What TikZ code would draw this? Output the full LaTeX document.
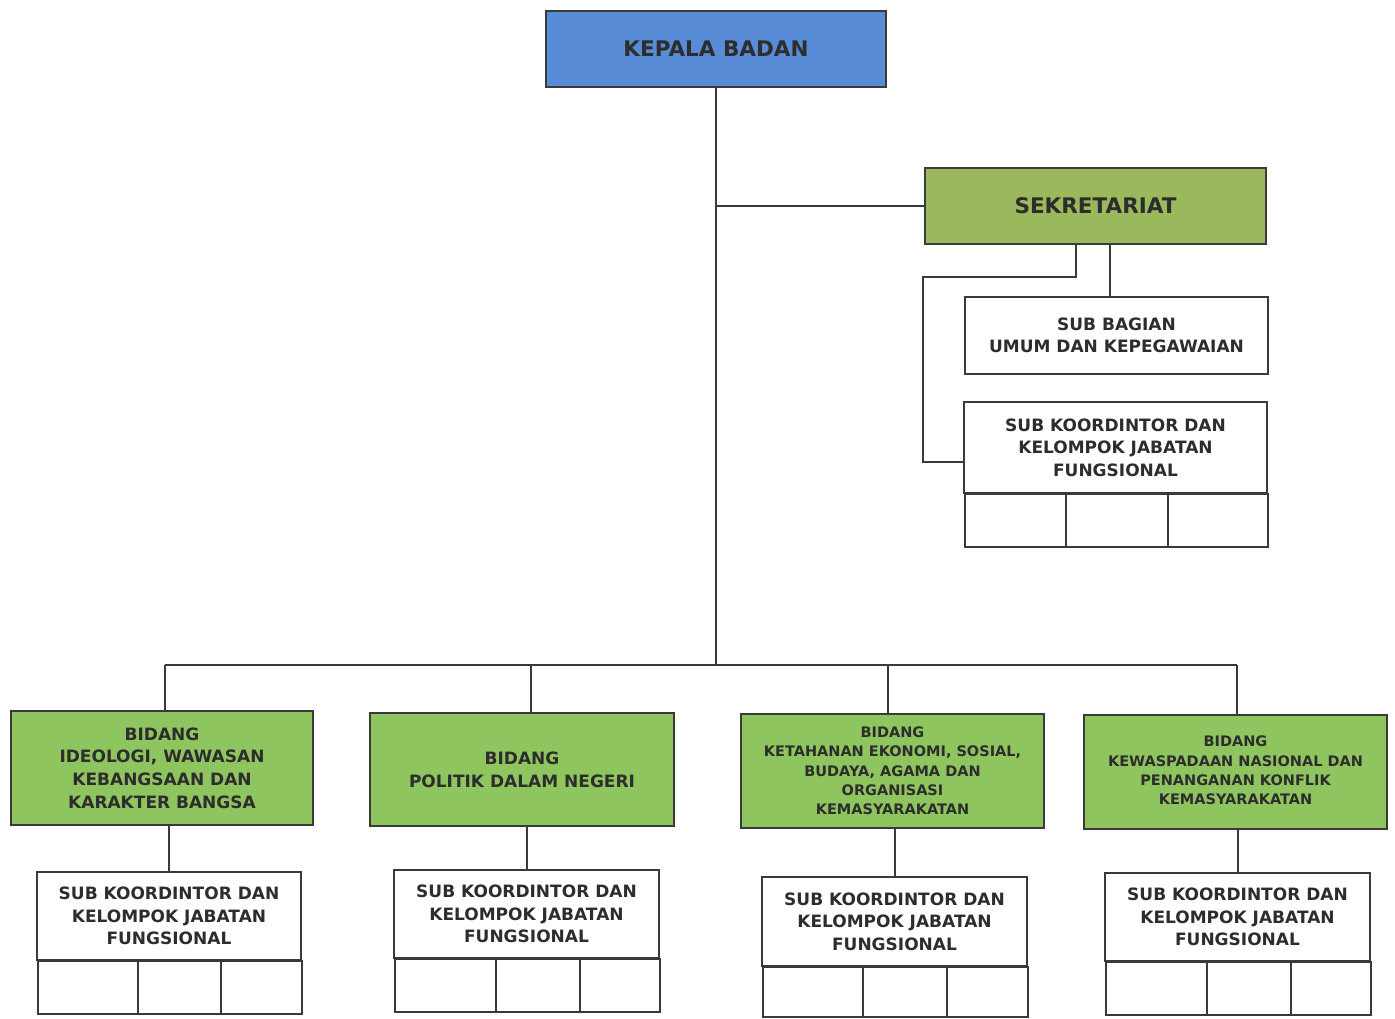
\documentclass[tikz,border=0pt]{standalone}
\usepackage{fontspec}
\setmainfont{DejaVu Sans}
\definecolor{lc}{RGB}{58,58,58}
\definecolor{txt}{RGB}{45,45,45}
\definecolor{kbblue}{RGB}{88,140,214}
\definecolor{sekgreen}{RGB}{155,185,92}
\definecolor{bidgreen}{RGB}{142,197,94}
\tikzset{
  box/.style={draw=lc, line width=2pt, align=center, text=txt, inner sep=0pt},
  bigfont/.style={font=\fontsize{21.5}{26}\selectfont\bfseries},
  midfont/.style={font=\fontsize{17}{22.6}\selectfont\bfseries},
  smallfont/.style={font=\fontsize{14.5}{19.3}\selectfont\bfseries},
  cell/.style={draw=lc, line width=2pt, anchor=north west, inner sep=0pt},
  conn/.style={draw=lc, line width=2pt},
}
\begin{document}
\begin{tikzpicture}[x=1pt,y=-1pt]
\useasboundingbox[fill=white] (0,0) rectangle (1395,1018);

% top
\node[box, bigfont, fill=kbblue, minimum width=340, minimum height=76] (kb) at (716,49) {\raisebox{-3pt}{KEPALA BADAN}};
\node[box, bigfont, fill=sekgreen, minimum width=341, minimum height=76] (sek) at (1095.5,206) {\raisebox{-3pt}{SEKRETARIAT}};
\node[box, midfont, fill=white, minimum width=303, minimum height=77] (sb) at (1116.5,335.5) {SUB BAGIAN\\UMUM DAN KEPEGAWAIAN};
\node[box, midfont, fill=white, minimum width=303, minimum height=91] (sk0) at (1115.5,447.5) {SUB KOORDINTOR DAN\\KELOMPOK JABATAN\\FUNGSIONAL};
\node[cell, minimum width=101, minimum height=53] (sk0a) at (964,493) {};
\node[cell, minimum width=102, minimum height=53] (sk0b) at (1065,493) {};
\node[cell, minimum width=100, minimum height=53] (sk0c) at (1167,493) {};

% bidang
\node[box, midfont, fill=bidgreen, minimum width=302, minimum height=114] (b1) at (162,768) {BIDANG\\IDEOLOGI, WAWASAN\\KEBANGSAAN DAN\\KARAKTER BANGSA};
\node[box, midfont, fill=bidgreen, minimum width=304, minimum height=113] (b2) at (522,769.5) {BIDANG\\POLITIK DALAM NEGERI};
\node[box, smallfont, fill=bidgreen, minimum width=303, minimum height=114] (b3) at (892.5,771) {BIDANG\\KETAHANAN EKONOMI, SOSIAL,\\BUDAYA, AGAMA DAN\\ORGANISASI\\KEMASYARAKATAN};
\node[box, smallfont, fill=bidgreen, minimum width=303, minimum height=114] (b4) at (1235.5,772) {\raisebox{7pt}{\begin{tabular}{@{}c@{}}BIDANG\\KEWASPADAAN NASIONAL DAN\\PENANGANAN KONFLIK\\KEMASYARAKATAN\end{tabular}}};

% sub koordinator boxes
\node[box, midfont, fill=white, minimum width=264, minimum height=88] (s1) at (169,916) {SUB KOORDINTOR DAN\\KELOMPOK JABATAN\\FUNGSIONAL};
\node[cell, minimum width=100, minimum height=53] (s1a) at (37,960) {};
\node[cell, minimum width=83, minimum height=53] (s1b) at (137,960) {};
\node[cell, minimum width=81, minimum height=53] (s1c) at (220,960) {};

\node[box, midfont, fill=white, minimum width=265, minimum height=88] (s2) at (526.5,914) {SUB KOORDINTOR DAN\\KELOMPOK JABATAN\\FUNGSIONAL};
\node[cell, minimum width=101, minimum height=53] (s2a) at (394,958) {};
\node[cell, minimum width=84, minimum height=53] (s2b) at (495,958) {};
\node[cell, minimum width=80, minimum height=53] (s2c) at (579,958) {};

\node[box, midfont, fill=white, minimum width=265, minimum height=89] (s3) at (894.5,921.5) {SUB KOORDINTOR DAN\\KELOMPOK JABATAN\\FUNGSIONAL};
\node[cell, minimum width=100, minimum height=50] (s3a) at (762,966) {};
\node[cell, minimum width=84, minimum height=50] (s3b) at (862,966) {};
\node[cell, minimum width=81, minimum height=50] (s3c) at (946,966) {};

\node[box, midfont, fill=white, minimum width=265, minimum height=88] (s4) at (1237.5,917) {SUB KOORDINTOR DAN\\KELOMPOK JABATAN\\FUNGSIONAL};
\node[cell, minimum width=101, minimum height=53] (s4a) at (1105,961) {};
\node[cell, minimum width=84, minimum height=53] (s4b) at (1206,961) {};
\node[cell, minimum width=80, minimum height=53] (s4c) at (1290,961) {};

% helper coordinates
\coordinate (bus) at (715,665);
\coordinate (x1110) at (1110,0);
\coordinate (x1076) at (1076,0);
\coordinate (j1) at (923,277);
\coordinate (j2) at (964,462);
\coordinate (d1) at (165,665);
\coordinate (d2) at (531,665);
\coordinate (d3) at (888,665);
\coordinate (d4) at (1237,665);

% connectors
\draw[conn] (kb.south) -- (kb.south |- bus);
\draw[conn] (kb.south |- sek.west) -- (sek.west);
\draw[conn] (sek.south -| x1110) -- (sb.north -| x1110);
\draw[conn] (sek.south -| x1076) |- (j1) |- (j2);
\draw[conn] (d1) -- (d4);
\draw[conn] (d1) -- (d1 |- b1.north);
\draw[conn] (d2) -- (d2 |- b2.north);
\draw[conn] (d3) -- (d3 |- b3.north);
\draw[conn] (d4) -- (d4 |- b4.north);
\draw[conn] (s1.north |- b1.south) -- (s1.north);
\draw[conn] (s2.north |- b2.south) -- (s2.north);
\draw[conn] (s3.north |- b3.south) -- (s3.north);
\draw[conn] (s4.north |- b4.south) -- (s4.north);
\end{tikzpicture}
\end{document}
